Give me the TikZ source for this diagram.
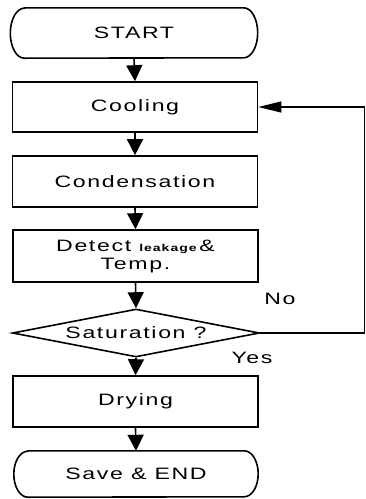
\documentclass[tikz,border=0pt]{standalone}
\usepackage{fontspec}
\setmainfont{Liberation Sans}[FakeStretch=1.4,LetterSpace=10]
\usetikzlibrary{shapes.geometric,arrows.meta}
\begin{document}
\begin{tikzpicture}[x=1pt,y=1pt,
  every node/.style={font=\fontsize{16.5}{18}\selectfont},
  procbox/.style={draw,line width=1.6pt,minimum width=245pt,minimum height=50pt,inner sep=0pt},
  termnode/.style={inner sep=0pt},
  termline/.style={line width=1.6pt},
  decision/.style={draw,line width=1.6pt,diamond,aspect=5.15,minimum width=247pt,minimum height=48pt,inner sep=0pt},
  flow/.style={line width=1.6pt,-{Triangle[length=16pt,width=16pt]}},
  looparrow/.style={line width=1.2pt,-{Triangle[length=23pt,width=11pt]}},
  lbl/.style={inner sep=0pt}]
\useasboundingbox (0,0) rectangle (366,-499);

\node[termnode,minimum width=219pt,minimum height=50pt] (start) at (134,-33) {START};
\draw[termline] (start.north west) -- (start.north east)
  arc[start angle=90,end angle=-90,x radius=14,y radius=25]
  -- (start.south west)
  arc[start angle=270,end angle=90,x radius=14,y radius=25] -- cycle;

\node[procbox] (cool) at (135,-107) {Cooling};
\node[procbox,minimum height=51pt] (cond) at (135,-181.5) {Condensation};
\node[procbox,minimum height=52pt,align=center] (detect) at (135.5,-256)
  {Detect {\fontsize{10}{10}\selectfont\bfseries leakage}\,\&\\Temp.};
\node[decision] (sat) at (136,-333) {Saturation ?};
\node[procbox,minimum height=51pt] (dry) at (135.5,-401.5) {Drying};

\node[termnode,minimum width=216pt,minimum height=46pt] (end) at (136,-474) {Save \& END};
\draw[termline] (end.north west) -- (end.north east)
  arc[start angle=90,end angle=-90,x radius=14,y radius=23]
  -- (end.south west)
  arc[start angle=270,end angle=90,x radius=14,y radius=23] -- cycle;

\draw[flow] (start.south) -- (cool.north);
\draw[flow] (cool.south) -- (cond.north);
\draw[flow] (cond.south) -- (detect.north);
\draw[flow] (detect.south) -- (sat.north);
\draw[flow] (sat.south) -- (dry.north);
\draw[flow] (dry.south) -- (end.north);

\coordinate (lp) at (364.5,-107);
\draw[looparrow] (sat.east) -| (lp) |- (cool.east);

\node[lbl] (no) at (280,-299) {No};
\node[lbl] (yes) at (252,-358) {Yes};
\end{tikzpicture}
\end{document}
